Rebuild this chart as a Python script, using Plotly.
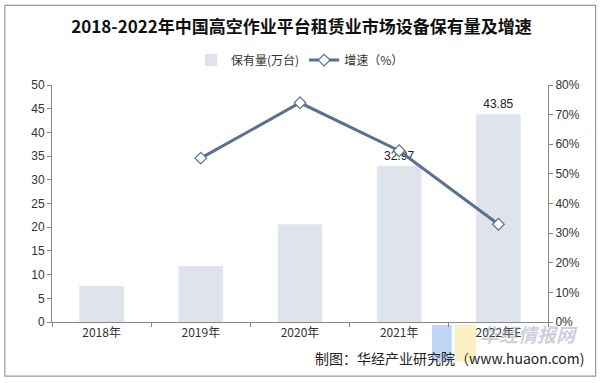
import plotly.graph_objects as go

years = ["2018年", "2019年", "2020年", "2021年", "2022年E"]
holdings = [7.6, 11.8, 20.6, 32.97, 43.85]
growth = [None, 55.3, 74.0, 57.8, 33.0]
bar_labels = ["", "", "", "32.97", "43.85"]
left_ticks = [0, 5, 10, 15, 20, 25, 30, 35, 40, 45, 50]
right_ticks = [0, 10, 20, 30, 40, 50, 60, 70, 80]
right_text = [f"{v}%" for v in right_ticks]

font = "Noto Sans CJK SC"
fig = go.Figure()
fig.add_trace(go.Bar(
    x=years, y=holdings, name="保有量(万台)",
    marker=dict(color="#dfe3ec", line=dict(width=0)),
    text=bar_labels, textposition="outside", cliponaxis=False,
    textfont=dict(size=12, color="#222", family="Liberation Sans"),
))
fig.add_trace(go.Scatter(
    x=years, y=growth, name="增速（%）", yaxis="y2", mode="lines+markers",
    line=dict(color="#5b6f93", width=3),
    marker=dict(symbol="diamond", size=9, color="white", line=dict(color="#5b6f93", width=1.2)),
))

fig.update_layout(
    width=603, height=383,
    margin=dict(l=52, r=55, t=85, b=61, autoexpand=False),
    paper_bgcolor="white", plot_bgcolor="rgba(0,0,0,0)",
    title=dict(text="<b>2018-2022年中国高空作业平台租赁业市场设备保有量及增速</b>",
               x=0.5, xanchor="center", y=0.93, yanchor="middle", yref="container",
               font=dict(family=font, size=17, color="#111")),
    legend=dict(orientation="h", x=0.5, xanchor="center", y=1.105, yanchor="middle",
                font=dict(family=font, size=12, color="#333")),
    bargap=0.55,
    xaxis=dict(showline=True, linecolor="#888", ticks="outside", tickson="boundaries",
               ticklen=4, tickcolor="#888", automargin=False,
               tickfont=dict(family=font, size=12, color="#333")),
    yaxis=dict(range=[0, 50], tickvals=left_ticks, showgrid=False, showline=True,
               linecolor="#888", ticks="outside", ticklen=4, tickcolor="#888", automargin=False,
               tickfont=dict(family="Liberation Sans", size=12, color="#333"), zeroline=False),
    yaxis2=dict(range=[0, 80], tickvals=right_ticks, ticktext=right_text, overlaying="y", side="right",
                showgrid=False, showline=True, linecolor="#888", ticks="outside", ticklen=4,
                tickcolor="#888", automargin=False,
                tickfont=dict(family="Liberation Sans", size=12, color="#333"),
                zeroline=False),
    shapes=[
        dict(type="rect", xref="paper", yref="paper", x0=-0.095, x1=1.096, y0=-0.228, y1=1.336,
             line=dict(color="#999", width=1.2)),
        dict(type="rect", xref="paper", yref="paper", x0=0.766, x1=0.806, y0=-0.169, y1=-0.013,
             fillcolor="rgba(140,180,240,0.55)", line=dict(width=0), layer="below"),
        dict(type="rect", xref="paper", yref="paper", x0=0.8125, x1=0.855, y0=-0.169, y1=-0.013,
             fillcolor="rgba(250,230,150,0.55)", line=dict(width=0), layer="below"),
    ],
    annotations=[
        dict(text="<b><i>华经情报网</i></b>", xref="paper", yref="paper", x=0.962, y=-0.05,
             xanchor="center", yanchor="middle", showarrow=False,
             font=dict(family=font, size=19, color="rgba(140,150,170,0.45)")),
        dict(text="制图：华经产业研究院（www.huaon.com)", xref="paper", yref="paper", x=1.079, y=-0.152,
             xanchor="right", yanchor="middle", showarrow=False,
             font=dict(family=font, size=14, color="#222")),
    ],
)
fig.write_html("out.html", config={"displayModeBar": False},
               post_script="document.body.style.margin='0';")
